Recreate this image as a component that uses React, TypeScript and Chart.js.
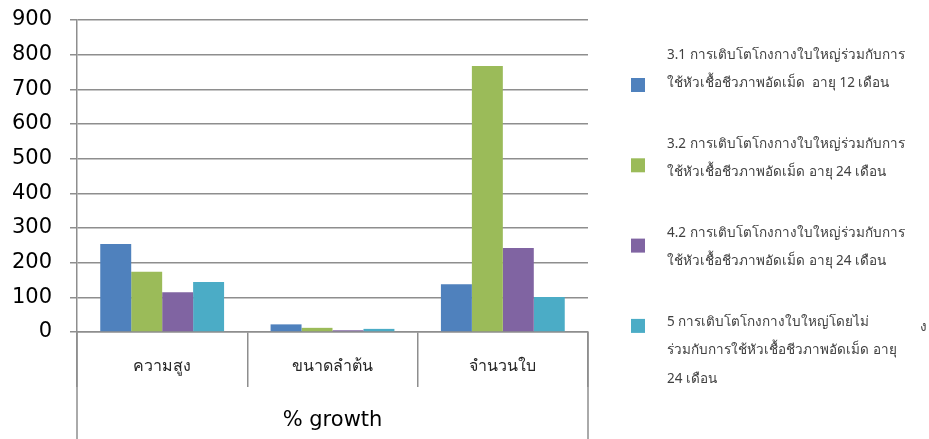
import React, { useEffect, useRef } from "react";
import { Chart, registerables } from "chart.js";

Chart.register(...registerables);

const categories = ["ความสูง", "ขนาดลำต้น", "จำนวนใบ"];
const groupLabel = "% growth";
const seriesLegendLines = [
  ["3.1 การเติบโตโกงกางใบใหญ่ร่วมกับการ", "ใช้หัวเชื้อชีวภาพอัดเม็ด  อายุ 12 เดือน"],
  ["3.2 การเติบโตโกงกางใบใหญ่ร่วมกับการ", "ใช้หัวเชื้อชีวภาพอัดเม็ด อายุ 24 เดือน"],
  ["4.2 การเติบโตโกงกางใบใหญ่ร่วมกับการ", "ใช้หัวเชื้อชีวภาพอัดเม็ด อายุ 24 เดือน"],
  ["5 การเติบโตโกงกางใบใหญ่โดยไม่", "ร่วมกับการใช้หัวเชื้อชีวภาพอัดเม็ด อายุ", "24 เดือน"],
];
const series1 = [254, 22, 138];
const series2 = [174, 12, 767];
const series3 = [115, 5, 242];
const series4 = [144, 9, 101];
const seriesColors = ["#4F81BD", "#9BBB59", "#8064A2", "#4BACC6"];
const yTicks = { min: 0, max: 900, step: 100 };
const strayText = "ง";

const GRID = "#8e8e8e";
const THAI_FONT = "'Noto Sans', 'DejaVu Sans', sans-serif";

export default function App() {
  const ref = useRef<HTMLCanvasElement | null>(null);

  useEffect(() => {
    document.body.style.margin = "0";
    const canvas = ref.current;
    if (!canvas) return;

    const extras = {
      id: "extras",
      afterDraw(chart: any) {
        const ctx = chart.ctx;
        const xs = chart.scales.x;
        const area = chart.chartArea;
        ctx.save();
        ctx.strokeStyle = GRID;
        ctx.lineWidth = 1.5;
        ctx.beginPath();
        ctx.moveTo(xs.left, area.bottom);
        ctx.lineTo(xs.left, chart.height);
        ctx.moveTo(xs.right, area.bottom);
        ctx.lineTo(xs.right, chart.height);
        ctx.stroke();
        ctx.fillStyle = "#000";
        ctx.font = "21px 'DejaVu Sans'";
        ctx.textAlign = "center";
        ctx.textBaseline = "middle";
        ctx.fillText(groupLabel, (xs.left + xs.right) / 2, 421);
        ctx.textAlign = "left";
        ctx.font = "13.5px " + THAI_FONT;
        chart.data.datasets.forEach((ds: any, i: number) => {
          const lines = seriesLegendLines[i];
          const textTop = 55 + 89 * i;
          lines.forEach((ln, j) => {
            ctx.fillStyle = "#404040";
            ctx.fillText(ln, 667, textTop + j * 28.5);
          });
          const sq = 85 + 80.3 * i;
          ctx.fillStyle = ds.backgroundColor;
          ctx.fillRect(631, sq - 7, 14, 14);
        });
        ctx.fillStyle = "#404040";
        ctx.fillText(strayText, 920, 327);
        ctx.restore();
      },
    };

    const chart = new Chart(canvas, {
      type: "bar",
      data: {
        labels: categories,
        datasets: [series1, series2, series3, series4].map((d, i) => ({
          label: seriesLegendLines[i].join(" "),
          data: d,
          backgroundColor: seriesColors[i],
          borderWidth: 0,
          categoryPercentage: 0.727,
          barPercentage: 1,
        })),
      },
      options: {
        responsive: false,
        animation: false,
        devicePixelRatio: 1,
        layout: { padding: { top: 20, right: 341, left: 0, bottom: 0 } },
        plugins: {
          legend: { display: false },
          tooltip: { enabled: false },
        },
        scales: {
          x: {
            offset: true,
            grid: {
              offset: true,
              drawOnChartArea: false,
              drawTicks: true,
              tickLength: 55,
              color: GRID,
              lineWidth: 1.5,
            },
            border: { display: true, color: GRID, width: 1.5 },
            ticks: {
              padding: -30,
              color: "#262626",
              font: { family: THAI_FONT, size: 16 },
              maxRotation: 0,
            },
            afterFit: (s: any) => {
              s.height = 107;
            },
          },
          y: {
            min: yTicks.min,
            max: yTicks.max,
            ticks: {
              stepSize: yTicks.step,
              padding: 18,
              color: "#000",
              font: { family: "'DejaVu Sans'", size: 21 },
            },
            grid: { color: GRID, lineWidth: 1.5, tickLength: 7, drawTicks: true },
            border: { display: true, color: GRID, width: 1.5 },
            afterFit: (s: any) => {
              s.width = 77;
              s.paddingTop = 0;
              s.paddingBottom = 0;
            },
          },
        },
      },
      plugins: [extras],
    });
    return () => chart.destroy();
  }, []);

  return <canvas ref={ref} width={929} height={439} style={{ display: "block", width: 929, height: 439 }} />;
}
